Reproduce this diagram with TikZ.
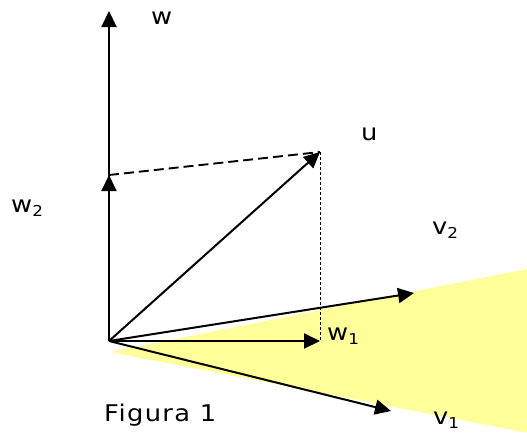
\documentclass[tikz,border=0pt]{standalone}
\usepackage{fontspec}
\setmainfont[FakeStretch=1.12]{DejaVu Sans}
\newfontfamily\figfont[FakeStretch=1.12,LetterSpace=6]{DejaVu Sans}
\usetikzlibrary{arrows.meta}
\definecolor{paleyellow}{RGB}{255,255,153}
\newcommand{\subtxt}[1]{\raisebox{-4.5pt}{\fontsize{15}{17}\selectfont #1}}
\begin{document}
\begin{tikzpicture}[x=1pt,y=-1pt,
  vec/.style={line width=2pt,-{Triangle[length=16pt,width=15pt]}},
  lbl/.style={inner sep=0pt,anchor=base west,font=\fontsize{23}{25}\selectfont}]
\useasboundingbox (0,0) rectangle (527,432);
\fill[paleyellow] (110,352) -- (527,269) -- (527,432) -- (523,432) -- cycle;
\coordinate (O) at (109,341);
\coordinate (W) at (109,11);
\coordinate (W2) at (109,175);
\coordinate (U) at (320,152);
\coordinate (W1) at (320,341);
\coordinate (V2) at (414,293);
\coordinate (V1) at (391,411);
\draw[line width=1.9pt,dash pattern=on 10pt off 5pt] (W2) -- (U);
\draw[line width=0.9pt,dash pattern=on 3pt off 2pt] (U) -- (W1);
\draw[vec] (O) -- (W);
\draw[vec] (O) -- (W2);
\draw[vec] (O) -- (U);
\draw[vec] (O) -- (W1);
\draw[vec] (O) -- (V2);
\draw[vec] (O) -- (V1);
\node[lbl] (lw) at (151,24) {w};
\node[lbl] (lw2) at (11,212) {w\subtxt{2}};
\node[lbl] (lu) at (361,140) {u};
\node[lbl] (lv2) at (432,234) {v\subtxt{2}};
\node[lbl] (lw1) at (327,340) {w\subtxt{1}};
\node[lbl] (lv1) at (433,424) {v\subtxt{1}};
\node[lbl,font=\figfont\fontsize{23}{25}\selectfont] (fig) at (104,421) {Figura 1};
\end{tikzpicture}
\end{document}
